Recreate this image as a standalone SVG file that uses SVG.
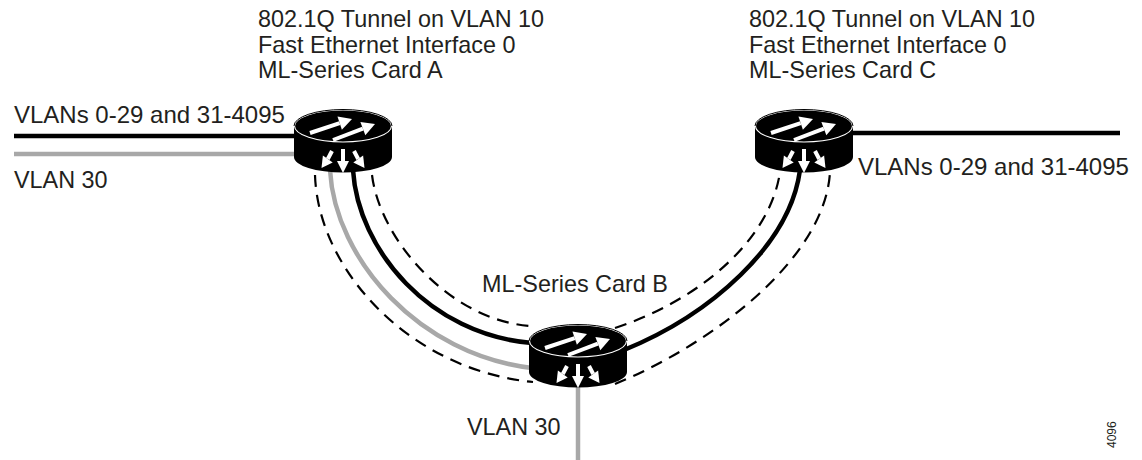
<svg xmlns="http://www.w3.org/2000/svg" xmlns:xlink="http://www.w3.org/1999/xlink" width="1142" height="460" viewBox="0 0 1142 460">
  <style>
    .lbl { font-family: "Liberation Sans", Arial, sans-serif; font-size: 23.4px; fill: #231f20; }
    .vl { font-size: 24px; }
    .tiny { font-family: "Liberation Sans", Arial, sans-serif; font-size: 12px; fill: #231f20; }
    .blk { fill: none; stroke: #000; stroke-width: 4.5; }
    .gry { fill: none; stroke: #a8a8a8; stroke-width: 4.5; }
    .dsh { fill: none; stroke: #000; stroke-width: 2.2; stroke-dasharray: 12 8; }
    .sh { stroke: #fff; stroke-width: 4; fill: none; }
  </style>
  <defs>
    <g id="router">
      <ellipse cx="0" cy="31" rx="49" ry="15.5" fill="#000"/>
      <rect x="-49" y="0" width="98" height="31" fill="#000"/>
      <ellipse cx="0" cy="0" rx="48.5" ry="16" fill="#000" stroke="#fff" stroke-width="1.1"/>
      <path d="M-49,0 A49,16.5 0 0 1 49,0" fill="none" stroke="#000" stroke-width="1"/>
      <g fill="#fff">
        <path class="sh" d="M-33,7 L-3.32,-2.89"/>
        <polygon points="9,-7 -1.11,3.75 -5.53,-9.53"/>
        <path class="sh" d="M-10,14 L19.84,2.63"/>
        <polygon points="32,-2 22.33,9.18 17.35,-3.92"/>
        <path class="sh" d="M0,23 L0,36"/>
        <polygon points="-6,35 6,35 0,47"/>
        <path class="sh" d="M-11,25 L-15.2,32.99"/>
        <polygon points="-21.5,42 -10.29,36.43 -20.11,29.55"/>
        <path class="sh" d="M11,25 L15.2,32.99"/>
        <polygon points="21.5,42 10.29,36.43 20.11,29.55"/>
      </g>
    </g>
  </defs>

  <g id="connectors">
    <line class="blk" x1="14" y1="136" x2="297" y2="136"/>
    <line class="gry" x1="14" y1="154" x2="297" y2="154"/>
    <line class="blk" x1="850" y1="133" x2="1120" y2="133"/>
    <line class="gry" x1="578" y1="385" x2="578" y2="460"/>
    <path class="dsh" d="M315,175 C318,270 410,370 533,382"/>
    <path class="gry" d="M330,170 C335,260 420,355 532,368"/>
    <path class="blk" d="M353,170 C358,250 430,335 532,343"/>
    <path class="dsh" d="M372,175 C380,240 450,320 530,326"/>
    <path class="blk" d="M624,350 C710,315 790,245 800,170"/>
    <path class="dsh" d="M615,328 C700,300 770,240 780,172"/>
    <path class="dsh" d="M615,384 C710,345 825,260 830,172"/>
  </g>

  <g id="card-a">
    <use xlink:href="#router" x="343" y="126"/>
    <text class="lbl" x="258" y="27">802.1Q Tunnel on VLAN 10</text>
    <text class="lbl" x="258" y="52.5">Fast Ethernet Interface 0</text>
    <text class="lbl" x="258" y="78">ML-Series Card A</text>
  </g>
  <g id="card-b">
    <use xlink:href="#router" x="578" y="341"/>
    <text class="lbl" x="482" y="292">ML-Series Card B</text>
  </g>
  <g id="card-c">
    <use xlink:href="#router" x="804" y="126"/>
    <text class="lbl" x="749" y="27">802.1Q Tunnel on VLAN 10</text>
    <text class="lbl" x="749" y="52.5">Fast Ethernet Interface 0</text>
    <text class="lbl" x="749" y="78">ML-Series Card C</text>
  </g>

  <g id="labels">
    <text class="lbl vl" x="14" y="123">VLANs 0-29 and 31-4095</text>
    <text class="lbl" x="14" y="188">VLAN 30</text>
    <text class="lbl vl" x="858" y="175">VLANs 0-29 and 31-4095</text>
    <text class="lbl" x="467" y="435">VLAN 30</text>
    <text class="tiny" transform="translate(1116,448) rotate(-90)">4096</text>
  </g>
</svg>
